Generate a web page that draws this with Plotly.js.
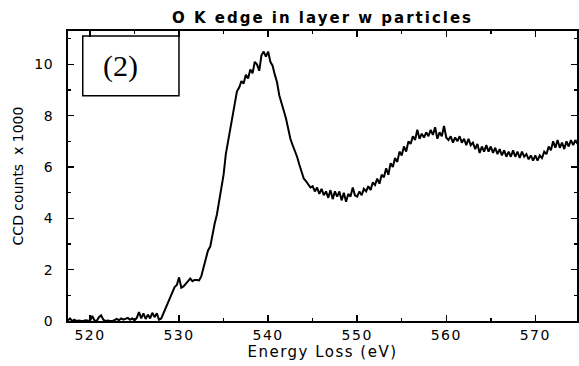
<!DOCTYPE html>
<html><head><meta charset="utf-8">
<script src="https://cdn.plot.ly/plotly-3.0.1.min.js"></script>
<style>
html,body{margin:0;padding:0;background:#fff;}
#chart{width:579px;height:366px;}
.gtitle{letter-spacing:2px;}
.xtick text{letter-spacing:1.5px;}
.ytick text{letter-spacing:0.5px;}
.xtitle{letter-spacing:1.5px;}
</style>
</head><body><div id="chart"></div>
<script>
// Energy loss (eV)
var energy = [
 517.5, 517.75,
 518, 518.25, 518.5, 518.75,
 519, 519.25, 519.5, 519.75,
 520, 520.25, 520.5, 520.75,
 521, 521.25, 521.5, 521.75,
 522, 522.25, 522.5, 522.75,
 523, 523.25, 523.5, 523.75,
 524, 524.25, 524.5, 524.75,
 525, 525.25, 525.5, 525.75,
 526, 526.25, 526.5, 526.75,
 527, 527.25, 527.5, 527.75,
 528, 528.25, 528.5, 528.75,
 529, 529.25, 529.5, 529.75,
 530, 530.25, 530.5, 530.75,
 531, 531.25, 531.5, 531.75,
 532, 532.25, 532.5, 532.75,
 533, 533.25, 533.5, 533.75,
 534, 534.25, 534.5, 534.75,
 535, 535.25, 535.5, 535.75,
 536, 536.25, 536.5, 536.75,
 537, 537.25, 537.5, 537.75,
 538, 538.25, 538.5, 538.75,
 539, 539.25, 539.5, 539.75,
 540, 540.25, 540.5, 540.75,
 541, 541.25, 541.5, 541.75,
 542, 542.25, 542.5, 542.75,
 543, 543.25, 543.5, 543.75,
 544, 544.25, 544.5, 544.75,
 545, 545.25, 545.5, 545.75,
 546, 546.25, 546.5, 546.75,
 547, 547.25, 547.5, 547.75,
 548, 548.25, 548.5, 548.75,
 549, 549.25, 549.5, 549.75,
 550, 550.25, 550.5, 550.75,
 551, 551.25, 551.5, 551.75,
 552, 552.25, 552.5, 552.75,
 553, 553.25, 553.5, 553.75,
 554, 554.25, 554.5, 554.75,
 555, 555.25, 555.5, 555.75,
 556, 556.25, 556.5, 556.75,
 557, 557.25, 557.5, 557.75,
 558, 558.25, 558.5, 558.75,
 559, 559.25, 559.5, 559.75,
 560, 560.25, 560.5, 560.75,
 561, 561.25, 561.5, 561.75,
 562, 562.25, 562.5, 562.75,
 563, 563.25, 563.5, 563.75,
 564, 564.25, 564.5, 564.75,
 565, 565.25, 565.5, 565.75,
 566, 566.25, 566.5, 566.75,
 567, 567.25, 567.5, 567.75,
 568, 568.25, 568.5, 568.75,
 569, 569.25, 569.5, 569.75,
 570, 570.25, 570.5, 570.75,
 571, 571.25, 571.5, 571.75,
 572, 572.25, 572.5, 572.75,
 573, 573.25, 573.5, 573.75,
 574, 574.25, 574.5, 574.75
];
// CCD counts x 1000
var counts = [
 0.02, 0.1,
 0.0, 0.05, 0.0, 0.02,
 0.0, 0.0, 0.03, 0.0,
 0.0, 0.2, 0.02, 0.0,
 0.15, 0.22, 0.05, 0.0,
 0.02, 0.0, 0.0, 0.03,
 0.08, 0.03, 0.1, 0.05,
 0.08, 0.12, 0.05, 0.1,
 0.02, 0.12, 0.35, 0.1,
 0.3, 0.08, 0.25, 0.1,
 0.32, 0.15, 0.3, 0.05,
 0.1, 0.3, 0.5, 0.75,
 0.95, 1.15, 1.32, 1.4,
 1.7, 1.3, 1.35, 1.45,
 1.55, 1.65, 1.55, 1.6,
 1.6, 1.58, 1.75, 2.05,
 2.4, 2.75, 2.9, 3.4,
 3.8, 4.15, 4.7, 5.2,
 5.7, 6.5, 7.0, 7.5,
 8.1, 8.6, 8.95, 9.1,
 9.35, 9.25, 9.6, 9.45,
 9.8, 9.65, 10.1, 10.0,
 9.75, 10.35, 10.5, 10.3,
 10.5, 10.1, 9.95, 9.6,
 9.3, 8.8, 8.45, 8.2,
 7.9, 7.5, 7.1, 6.85,
 6.65, 6.4, 6.1, 5.8,
 5.55, 5.45, 5.3, 5.2,
 5.25, 5.05, 5.2, 4.95,
 5.15, 4.9, 5.05, 4.8,
 5.1, 4.75, 5.05, 4.85,
 5.05, 4.7, 5.0, 4.65,
 4.95, 4.85, 5.2, 4.9,
 4.85, 5.05, 4.9, 5.15,
 5.05, 5.25, 5.1, 5.4,
 5.3, 5.55, 5.35, 5.7,
 5.6, 5.95, 5.7, 6.15,
 6.0, 6.35, 6.2, 6.6,
 6.45, 6.8, 6.6, 7.0,
 6.9, 7.2, 7.05, 7.45,
 7.1, 7.3, 7.15, 7.35,
 7.2, 7.45, 7.25, 7.55,
 7.1, 7.35, 7.2, 7.6,
 7.15, 7.05, 7.2, 6.95,
 7.15, 7.0, 7.2, 6.95,
 7.1, 6.85, 7.1, 6.85,
 6.95, 6.7, 6.9, 6.55,
 6.8, 6.6, 6.85, 6.6,
 6.8, 6.55, 6.75, 6.5,
 6.7, 6.45, 6.65, 6.4,
 6.6, 6.4, 6.65, 6.4,
 6.6, 6.35, 6.6, 6.4,
 6.5, 6.3, 6.45, 6.25,
 6.45, 6.25, 6.45, 6.35,
 6.6, 6.5, 6.8, 6.65,
 7.0, 6.75, 7.05, 6.75,
 6.95, 6.7, 7.0, 6.8,
 7.05, 6.85, 7.05, 6.9
];
var chartTitle = 'O K edge in layer w particles';
var xTitle = 'Energy Loss (eV)';
var yTitle = 'CCD counts\u00a0 x 1000';
var panelLabel = '(2)';

var axisFont = {family: 'DejaVu Sans, Arial, sans-serif', size: 14, color: '#000'};

var trace = {
  x: energy, y: counts, type: 'scatter', mode: 'lines',
  line: {color: '#000', width: 2}, hoverinfo: 'skip'
};

var layout = {
  width: 579, height: 366,
  margin: {l: 68, r: 2, t: 31, b: 45, pad: 0},
  paper_bgcolor: '#fff', plot_bgcolor: '#fff',
  showlegend: false,
  title: {
    text: chartTitle,
    font: {family: 'DejaVu Sans, Arial, sans-serif', size: 15, weight: 'bold', color: '#000'},
    x: 0.5, xref: 'paper', xanchor: 'center',
    y: 1 - 18 / 366, yref: 'container', yanchor: 'middle'
  },
  xaxis: {
    range: [517.53, 574.68],
    showline: true, linewidth: 2, linecolor: '#000', mirror: 'allticks',
    ticks: 'inside', ticklen: 6, tickwidth: 1.5, tickcolor: '#000',
    tick0: 520, dtick: 10,
    minor: {dtick: 5, ticks: 'inside', ticklen: 3, tickwidth: 1.5, tickcolor: '#000'},
    showgrid: false, zeroline: false,
    tickfont: axisFont,
    automargin: false,
    title: {text: xTitle, font: {family: 'DejaVu Sans, Arial, sans-serif', size: 15, color: '#000'}, standoff: 4}
  },
  yaxis: {
    range: [0, 11.3],
    showline: true, linewidth: 2, linecolor: '#000', mirror: 'allticks',
    ticks: 'inside', ticklen: 6, tickwidth: 1.5, tickcolor: '#000',
    tick0: 0, dtick: 2,
    minor: {dtick: 1, ticks: 'inside', ticklen: 3, tickwidth: 1.5, tickcolor: '#000'},
    showgrid: false, zeroline: false,
    tickfont: axisFont,
    ticklabelstandoff: 10,
    automargin: false,
    title: {text: yTitle, font: {family: 'DejaVu Sans, Arial, sans-serif', size: 14, color: '#000'}, standoff: 7}
  },
  shapes: [{
    type: 'rect', xref: 'paper', yref: 'paper',
    x0: 0.029, x1: 0.218, y0: 0.777, y1: 0.983,
    line: {color: '#000', width: 1.5}, fillcolor: 'rgba(0,0,0,0)'
  }],
  annotations: [{
    text: panelLabel, xref: 'paper', yref: 'paper', x: 0.104, y: 0.878,
    xanchor: 'center', yanchor: 'middle', showarrow: false,
    font: {family: 'Liberation Serif, Times New Roman, serif', size: 30, color: '#000'}
  }]
};

Plotly.newPlot('chart', [trace], layout, {staticPlot: true, displayModeBar: false});
</script></body></html>
